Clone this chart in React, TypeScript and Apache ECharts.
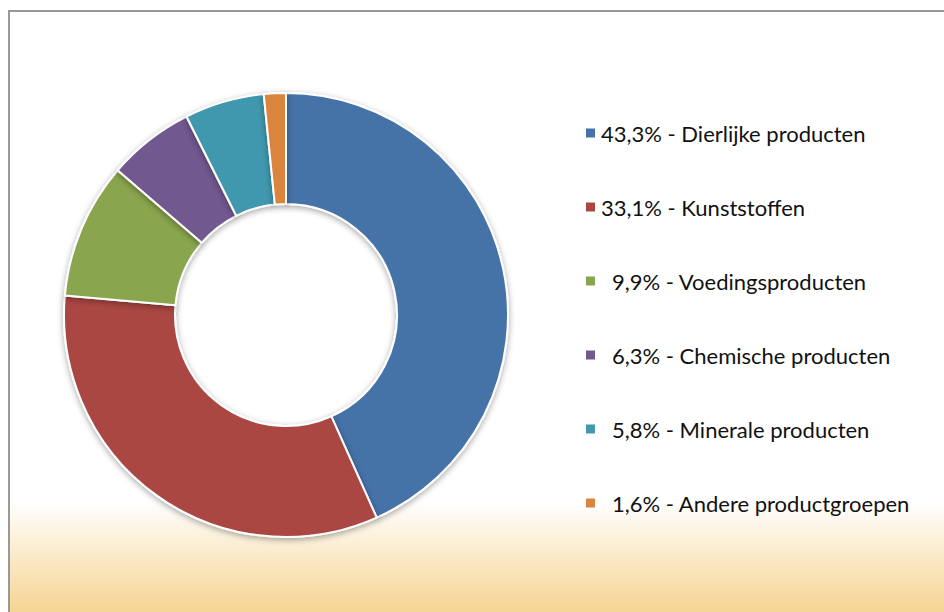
import React, { useEffect, useRef } from "react";
import * as echarts from "echarts";

const categories = [
  "Dierlijke producten",
  "Kunststoffen",
  "Voedingsproducten",
  "Chemische producten",
  "Minerale producten",
  "Andere productgroepen",
];
const values = [43.3, 33.1, 9.9, 6.3, 5.8, 1.6];
const colors = ["#4572A7", "#AA4643", "#89A54E", "#71588F", "#4198AF", "#DB843D"];

export default function App() {
  const ref = useRef<HTMLDivElement>(null);
  useEffect(() => {
    if (!ref.current) return;
    const chart = echarts.init(ref.current, undefined, { renderer: "svg" });
    const fmt = (v: number) => v.toFixed(1).replace(".", ",");
    chart.setOption({
      animation: false,
      color: colors,
      graphic: [
        {
          type: "rect",
          z: -10,
          shape: { x: 9, y: 11, width: 940, height: 605 },
          style: {
            fill: {
              type: "linear",
              x: 0,
              y: 0,
              x2: 0,
              y2: 1,
              colorStops: [
                { offset: 0, color: "#ffffff" },
                { offset: 0.81, color: "#ffffff" },
                { offset: 1, color: "#F5D38F" },
              ],
            },
            stroke: "#999999",
            lineWidth: 2,
          },
        },
      ],
      legend: {
        orient: "vertical",
        left: 579,
        top: 117,
        itemWidth: 11,
        itemHeight: 11,
        itemGap: 52,
        icon: "rect",
        selectedMode: false,
        data: categories,
        formatter: (name: string) => {
          const i = categories.indexOf(name);
          const s = `${fmt(values[i])}% - ${name}`;
          return values[i] < 10 ? `{p|}{t|${s}}` : `{t|${s}}`;
        },
        textStyle: {
          fontFamily: "Lato",
          fontSize: 22,
          color: "#111",
          lineHeight: 22,
          rich: {
            p: { width: 11, height: 22, lineHeight: 22 },
            t: { fontFamily: "Lato", fontSize: 22, color: "#111", lineHeight: 22 },
          },
        },
      },
      series: [
        {
          type: "pie",
          center: [286, 315],
          radius: [111, 222],
          startAngle: 90,
          clockwise: true,
          label: { show: false },
          labelLine: { show: false },
          emphasis: { disabled: true },
          itemStyle: {
            borderColor: "#ffffff",
            borderWidth: 2,
            shadowBlur: 6,
            shadowOffsetY: 2,
            shadowColor: "rgba(0,0,0,0.35)",
          },
          data: categories.map((c, i) => ({ name: c, value: values[i] })),
        },
      ],
    });
    return () => chart.dispose();
  }, []);
  return (
    <div
      ref={ref}
      style={{ position: "fixed", left: 0, top: 0, width: 944, height: 612, background: "#fff" }}
    />
  );
}
